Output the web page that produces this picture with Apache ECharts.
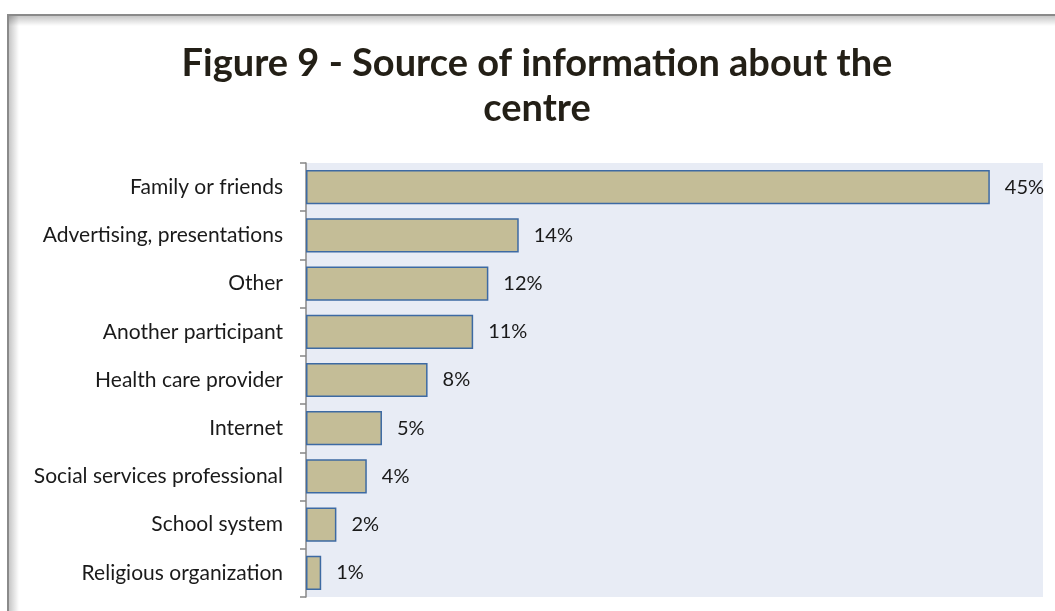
<!DOCTYPE html>
<html>
<head>
<meta charset="utf-8">
<script src="https://cdn.jsdelivr.net/npm/echarts@6/dist/echarts.min.js"></script>
<style>
  html, body { margin: 0; padding: 0; background: #ffffff; }
  #chart { width: 1055px; height: 611px; }
</style>
</head>
<body>
<div id="chart"></div>
<script>
// Where participants heard about the centre (share of respondents, %)
const categories = [
  'Family or friends',
  'Advertising, presentations',
  'Other',
  'Another participant',
  'Health care provider',
  'Internet',
  'Social services professional',
  'School system',
  'Religious organization'
];
const shares = [45, 14, 12, 11, 8, 5, 4, 2, 1];

const titleText = 'Figure 9 - Source of information about the\ncentre';

const chart = echarts.init(document.getElementById('chart'), null, { renderer: 'canvas' });

const frameGray = '#8a8a8a';

chart.setOption({
  backgroundColor: '#ffffff',
  animation: false,
  title: {
    text: titleText,
    left: 532,
    top: 36,
    textAlign: 'center',
    textStyle: {
      fontFamily: 'Lato',
      fontWeight: 'bold',
      fontSize: 38,
      lineHeight: 45,
      color: '#231f16'
    }
  },
  graphic: [
    // soft inner shadow of the frame
    {
      type: 'rect', silent: true, z: 0,
      shape: { x: 9, y: 16, width: 1046, height: 10 },
      style: {
        fill: new echarts.graphic.LinearGradient(0, 0, 0, 1, [
          { offset: 0, color: 'rgba(0,0,0,0.22)' },
          { offset: 1, color: 'rgba(0,0,0,0)' }
        ])
      }
    },
    {
      type: 'rect', silent: true, z: 0,
      shape: { x: 9, y: 16, width: 10, height: 595 },
      style: {
        fill: new echarts.graphic.LinearGradient(0, 0, 1, 0, [
          { offset: 0, color: 'rgba(0,0,0,0.22)' },
          { offset: 1, color: 'rgba(0,0,0,0)' }
        ])
      }
    },
    // frame edges
    {
      type: 'rect', silent: true, z: 1,
      shape: { x: 7, y: 14, width: 1048, height: 2 },
      style: { fill: frameGray }
    },
    {
      type: 'rect', silent: true, z: 1,
      shape: { x: 7, y: 14, width: 2, height: 597 },
      style: { fill: frameGray }
    }
  ],
  grid: {
    left: 306,
    right: 12,
    top: 163,
    bottom: 14,
    show: true,
    backgroundColor: '#e8ecf5',
    borderWidth: 0,
    containLabel: false
  },
  xAxis: {
    type: 'value',
    min: 0,
    max: 48.5,
    show: false,
    splitLine: { show: false }
  },
  yAxis: {
    type: 'category',
    data: categories,
    inverse: true,
    axisLine: { show: true, lineStyle: { color: '#878787', width: 1.5 } },
    axisTick: {
      show: true,
      alignWithLabel: false,
      length: 6,
      lineStyle: { color: '#878787', width: 1.5 }
    },
    axisLabel: {
      margin: 23,
      fontFamily: 'Lato',
      fontSize: 21,
      color: '#1a1a1a'
    },
    splitLine: { show: false }
  },
  series: [{
    type: 'bar',
    data: shares,
    barCategoryGap: '29%',
    itemStyle: {
      color: '#c4bd97',
      borderColor: '#3d6aa3',
      borderWidth: 1.5
    },
    label: {
      show: true,
      position: 'right',
      distance: 15,
      formatter: '{c}%',
      fontFamily: 'Lato',
      fontSize: 20,
      color: '#1a1a1a'
    }
  }]
});
</script>
</body>
</html>
